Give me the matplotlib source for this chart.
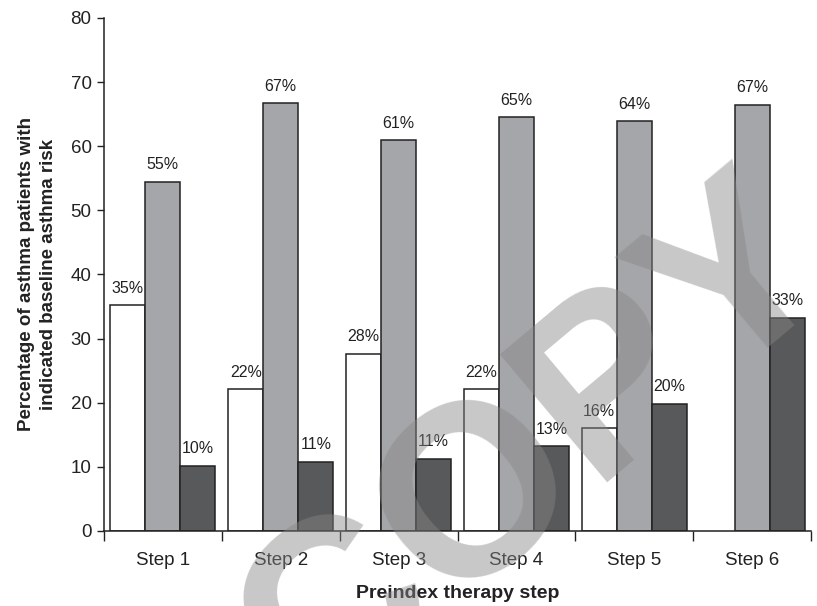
import numpy as np
import matplotlib.pyplot as plt
from matplotlib.ticker import FixedLocator, NullFormatter

plt.rcParams['font.family'] = ['Liberation Sans', 'DejaVu Sans']

steps = ['Step 1', 'Step 2', 'Step 3', 'Step 4', 'Step 5', 'Step 6']
low_risk = [35.2, 22.1, 27.6, 22.1, 16.0, 0.0]
mid_risk = [54.5, 66.7, 60.9, 64.5, 63.9, 66.5]
high_risk = [10.1, 10.8, 11.2, 13.2, 19.8, 33.2]
low_lbl = ['35%', '22%', '28%', '22%', '16%', '']
mid_lbl = ['55%', '67%', '61%', '65%', '64%', '67%']
high_lbl = ['10%', '11%', '11%', '13%', '20%', '33%']

fig = plt.figure(figsize=(8.17, 6.06), dpi=100)
ax = fig.add_axes([0.1273, 0.1238, 0.8654, 0.8465])

x = np.arange(len(steps))
w = 0.297
edge = '#222222'
series = [(low_risk, low_lbl, 'white'),
          (mid_risk, mid_lbl, '#a5a6a9'),
          (high_risk, high_lbl, '#58595b')]

for k, (vals, lbls, col) in enumerate(series):
    xs = x + (k - 1) * w
    for xi, v, t in zip(xs, vals, lbls):
        if v <= 0:
            continue
        ax.bar(xi, v, width=w, color=col, edgecolor=edge, linewidth=1.1)
        ax.annotate(t, (xi, v), xytext=(0, 7), textcoords='offset points',
                    ha='center', va='bottom', fontsize=11.5, color='#222222')

ax.set_xlim(-0.5, len(steps) - 0.5)
ax.set_ylim(0, 80)
ax.set_yticks(range(0, 81, 10))
ax.set_xticks(x)
ax.set_xticklabels(steps)
ax.xaxis.set_minor_locator(FixedLocator(np.arange(-0.5, len(steps), 1.0)))
ax.xaxis.set_minor_formatter(NullFormatter())
ax.tick_params(axis='x', which='major', length=0, pad=15, labelsize=13.5, colors='#222222')
ax.tick_params(axis='x', which='minor', length=7, width=1, color='#222222')
ax.tick_params(axis='y', length=5, width=1, labelsize=13.5, colors='#222222', pad=4)

for s in ['top', 'right']:
    ax.spines[s].set_visible(False)
for s in ['left', 'bottom']:
    ax.spines[s].set_color('#222222')
    ax.spines[s].set_linewidth(1.1)

ax.set_xlabel('Preindex therapy step', fontsize=14, fontweight='bold', labelpad=12, color='#222222')
ax.set_ylabel('Percentage of asthma patients with\nindicated baseline asthma risk',
              fontsize=13.5, fontweight='bold', labelpad=10, color='#222222',
              linespacing=1.35)

# watermark
fig.text(0.658, 0.255, 'COPY', fontsize=175, fontweight='bold', rotation=40,
         ha='center', va='center', color='#878787', alpha=0.46, zorder=10)

fig.savefig('out.png', dpi=100)
